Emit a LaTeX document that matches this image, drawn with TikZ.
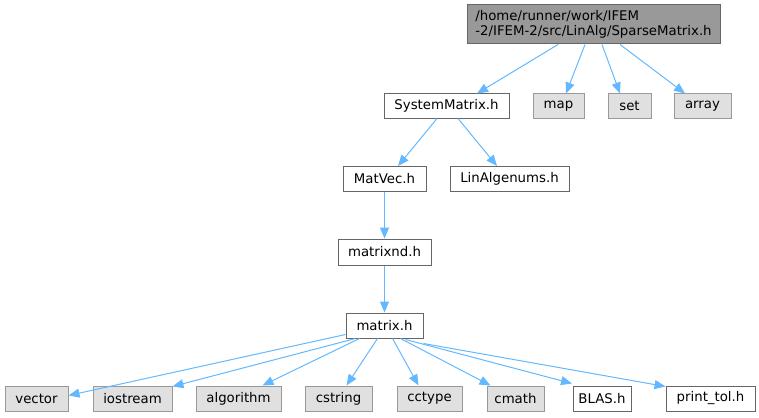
\documentclass[tikz,border=0pt]{standalone}
\usepackage{fontspec}
\setmainfont{DejaVu Sans}
\usetikzlibrary{arrows.meta}
\definecolor{edgeblue}{HTML}{63B8FF}
\definecolor{rootfill}{HTML}{999999}
\definecolor{rootdraw}{HTML}{666666}
\definecolor{sysfill}{HTML}{E0E0E0}
\definecolor{sysdraw}{HTML}{999999}
\tikzset{
  base/.style={rectangle, inner sep=0pt, font=\fontsize{13.3}{15.5}\selectfont, anchor=center, line width=1pt},
  filebox/.style={base, draw=rootdraw, fill=white},
  sysbox/.style={base, draw=sysdraw, fill=sysfill},
  rootbox/.style={base, draw=rootdraw, fill=rootfill, align=left},
  dep/.style={draw=edgeblue, line width=1pt, -{Triangle[length=11pt,width=9pt]}}
}
\begin{document}
\begin{tikzpicture}[x=1pt,y=-1pt]
\useasboundingbox (0,0) rectangle (759,417);
\node[rootbox, minimum width=253pt, minimum height=39pt] (root) at (593.5,24.5) {/home/runner/work/IFEM\\-2/IFEM-2/src/LinAlg/SparseMatrix.h};
\node[filebox, minimum width=125pt, minimum height=24pt] (sm) at (446.5,106) {SystemMatrix.h};
\node[sysbox, minimum width=51pt, minimum height=24pt] (map) at (558.5,106) {map};
\node[sysbox, minimum width=43pt, minimum height=24pt] (set) at (629.5,106) {set};
\node[sysbox, minimum width=57pt, minimum height=24pt] (array) at (702.5,106) {array};
\node[filebox, minimum width=83pt, minimum height=25pt] (mv) at (384.5,179) {MatVec.h};
\node[filebox, minimum width=119pt, minimum height=25pt] (lae) at (509.5,179) {LinAlgenums.h};
\node[filebox, minimum width=93pt, minimum height=26pt] (mnd) at (384.5,252) {matrixnd.h};
\node[filebox, minimum width=77pt, minimum height=25pt] (mat) at (384.5,325.5) {matrix.h};
\node[sysbox, minimum width=63pt, minimum height=25pt] (vec) at (36.5,398.5) {vector};
\node[sysbox, minimum width=79pt, minimum height=25pt] (ios) at (132.5,398.5) {iostream};
\node[sysbox, minimum width=85pt, minimum height=25pt] (alg) at (238.5,398.5) {algorithm};
\node[sysbox, minimum width=67pt, minimum height=25pt] (cstr) at (338.5,398.5) {cstring};
\node[sysbox, minimum width=65pt, minimum height=25pt] (cct) at (429.5,398.5) {cctype};
\node[sysbox, minimum width=57pt, minimum height=25pt] (cm) at (515.5,398.5) {cmath};
\node[filebox, minimum width=58pt, minimum height=25pt] (blas) at (602,398.5) {BLAS.h};
\node[filebox, minimum width=89pt, minimum height=25pt] (pt) at (710.5,398.5) {print\_tol.h};
% edges
\draw[dep] ([xshift=-35.5pt]root.south) -- ([xshift=30.5pt]sm.north);
\draw[dep] ([xshift=-8.5pt]root.south) -- ([xshift=7.5pt]map.north);
\draw[dep] ([xshift=8.5pt]root.south) -- ([xshift=-9.5pt]set.north);
\draw[dep] ([xshift=26.5pt]root.south) -- ([xshift=-17.5pt]array.north);
\draw[dep] ([xshift=-9.5pt]sm.south) -- ([xshift=13.5pt]mv.north);
\draw[dep] ([xshift=11.5pt]sm.south) -- ([xshift=-12.5pt]lae.north);
\draw[dep] (mv.south) -- (mnd.north);
\draw[dep] (mnd.south) -- (mat.north);
\draw[dep] ([yshift=4pt]mat.south west) -- ([yshift=-10pt]vec.north east);
\draw[dep] ([xshift=10pt]mat.south west) -- ([yshift=-1pt]ios.north east);
\draw[dep] ([xshift=14pt]mat.south west) -- ([xshift=24pt]alg.north);
\draw[dep] ([xshift=-7pt]mat.south) -- ([xshift=8pt]cstr.north);
\draw[dep] ([xshift=8pt]mat.south) -- ([xshift=-11pt]cct.north);
\draw[dep] ([xshift=16pt]mat.south) -- ([xshift=-25pt]cm.north);
\draw[dep] ([xshift=-18pt,yshift=-1pt]mat.south east) -- ([xshift=-30pt,yshift=2pt]blas.north);
\draw[dep] ([yshift=-5pt]mat.south east) -- ([yshift=-1pt]pt.north west);
\end{tikzpicture}
\end{document}
